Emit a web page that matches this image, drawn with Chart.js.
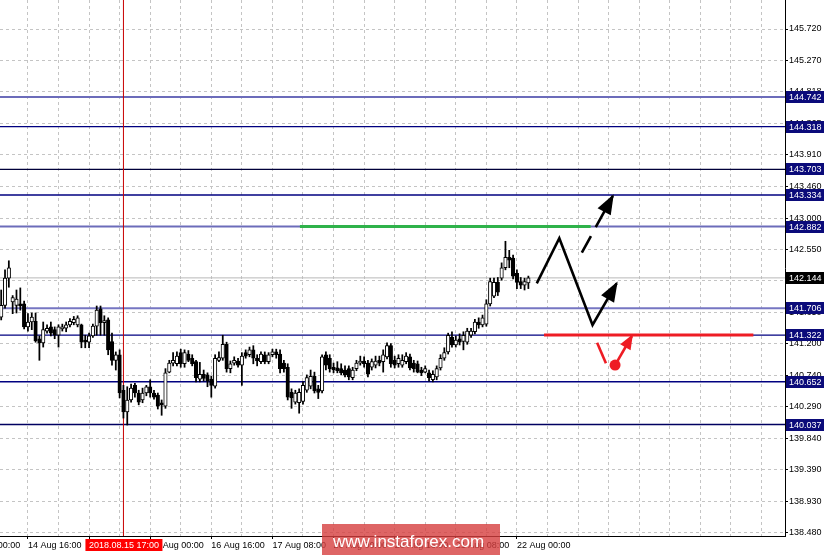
<!DOCTYPE html>
<html><head><meta charset="utf-8">
<script src="https://cdn.jsdelivr.net/npm/chart.js@4.4.1/dist/chart.umd.min.js"></script>
<style>html,body{margin:0;padding:0;background:#fff;overflow:hidden}canvas{display:block}</style>
</head><body>
<canvas id="c" width="824" height="555" style="width:824px;height:555px"></canvas>
<script>
// ---- H1 candles, 14 Aug 2018 09:00 (index 0) .. 22 Aug 2018 03:00 (index 138)
const opens = [141.58,141.75,142.14,141.80,141.75,141.77,141.77,141.44,141.51,141.52,
141.27,141.21,141.38,141.44,141.40,141.32,141.41,141.42,141.47,141.50,
141.47,141.47,141.25,141.22,141.31,141.45,141.70,141.50,141.54,141.23,
140.96,141.04,140.53,140.22,140.39,140.60,140.49,140.39,140.49,140.58,
140.49,140.46,140.35,140.30,140.79,140.92,140.91,141.07,140.91,141.05,
140.99,140.94,140.69,140.76,140.75,140.69,140.59,140.96,140.99,141.19,
140.84,140.92,140.95,140.89,141.07,141.04,141.11,140.99,140.94,141.04,
140.94,141.04,141.08,141.05,140.92,140.86,140.50,140.36,140.35,140.37,
140.53,140.59,140.73,140.55,140.52,141.04,140.99,140.86,140.85,140.84,
140.82,140.84,140.71,140.84,140.92,140.95,140.92,140.86,140.89,140.96,
140.94,141.01,141.17,140.96,140.91,140.89,140.94,141.01,140.92,140.91,
140.82,140.79,140.78,140.68,140.72,140.85,140.99,141.08,141.29,141.18,
141.27,141.23,141.22,141.32,141.37,141.51,141.47,141.48,141.77,141.88,
142.08,142.14,142.29,142.44,142.43,142.21,142.09,142.04,142.07];
const highs = [141.97,142.26,142.39,141.89,141.97,142.00,141.81,141.63,141.64,141.64,
141.31,141.51,141.47,141.51,141.44,141.47,141.48,141.51,141.56,141.59,
141.60,141.48,141.32,141.35,141.48,141.74,141.74,141.60,141.57,141.35,
141.08,141.11,140.60,140.58,140.62,140.63,140.53,140.56,140.60,140.68,
140.53,140.49,140.39,140.84,140.96,141.07,141.08,141.12,141.11,141.10,
141.04,140.96,140.93,140.82,140.78,140.73,141.04,141.08,141.32,141.22,
140.95,141.01,140.99,141.07,141.11,141.15,141.17,141.04,141.08,141.08,
141.07,141.12,141.12,141.11,140.96,140.91,140.55,140.53,140.55,140.65,
140.75,140.82,140.79,140.60,141.04,141.08,141.04,140.92,140.94,140.91,
140.88,140.88,140.86,140.96,141.02,141.01,140.96,140.98,141.02,141.02,
141.11,141.21,141.20,141.02,141.04,141.04,141.07,141.05,140.96,140.95,
140.86,140.88,140.82,140.81,140.88,141.04,141.14,141.35,141.37,141.31,
141.34,141.37,141.42,141.42,141.55,141.57,141.61,141.83,142.14,142.14,
142.15,142.36,142.67,142.54,142.47,142.26,142.15,142.14,142.17];
const lows = [141.54,141.71,142.01,141.63,141.64,141.68,141.41,141.38,141.40,141.22,
140.96,141.15,141.35,141.31,141.27,141.15,141.38,141.37,141.44,141.47,
141.44,141.14,141.14,141.14,141.29,141.32,141.32,141.32,141.04,140.89,
140.82,140.42,140.13,140.03,140.36,140.43,140.32,140.35,140.45,140.43,
140.40,140.26,140.17,140.27,140.78,140.88,140.88,140.86,140.86,140.94,
140.88,140.65,140.65,140.66,140.58,140.43,140.56,140.94,140.96,140.79,
140.78,140.89,140.86,140.60,140.99,141.01,140.91,140.88,140.91,140.91,
140.91,141.01,140.99,140.78,140.79,140.39,140.27,140.33,140.20,140.33,
140.50,140.55,140.49,140.41,140.49,140.82,140.79,140.78,140.78,140.75,
140.72,140.68,140.68,140.81,140.89,140.86,140.72,140.82,140.85,140.88,
140.79,140.98,140.86,140.85,140.86,140.86,140.91,140.82,140.79,140.78,
140.74,140.78,140.66,140.65,140.68,140.82,140.96,141.05,141.15,141.15,
141.18,141.11,141.19,141.29,141.34,141.42,141.44,141.45,141.74,141.86,
141.89,142.11,142.26,142.29,142.13,141.99,141.99,141.97,141.99];
const closes = [141.75,142.14,142.29,141.86,141.84,141.74,141.44,141.51,141.58,141.24,
141.21,141.40,141.42,141.35,141.32,141.44,141.44,141.47,141.52,141.55,
141.57,141.22,141.22,141.31,141.45,141.68,141.50,141.53,141.11,140.96,
141.04,140.49,140.22,140.39,140.56,140.49,140.36,140.49,140.58,140.49,
140.43,140.30,140.32,140.78,140.92,140.96,141.02,140.91,141.07,140.96,
140.91,140.71,140.76,140.70,140.66,140.60,140.99,141.00,141.19,140.84,
140.91,140.96,140.89,141.02,141.02,141.11,140.99,140.95,141.05,140.94,
141.04,141.08,141.04,140.84,140.84,140.43,140.42,140.49,140.50,140.60,
140.71,140.73,140.52,140.50,141.01,140.89,140.84,140.82,140.81,140.78,
140.75,140.72,140.82,140.92,140.95,140.91,140.76,140.94,140.95,140.92,
141.04,141.17,140.91,140.89,140.99,140.96,141.02,140.85,140.84,140.79,
140.78,140.84,140.71,140.76,140.84,140.99,141.07,141.32,141.18,141.25,
141.22,141.32,141.38,141.38,141.51,141.47,141.57,141.77,142.09,142.08,
141.94,142.29,142.44,142.40,142.17,142.08,142.04,142.09,142.144];

// ---- axis content
const priceTicks = [145.720,145.270,144.818,144.365,143.910,143.460,143.000,142.550,142.100,141.650,141.200,140.740,140.290,139.840,139.390,138.930,138.480];
const timeTickIdx = [-9,7,23,39,55,71,87,103,119,135];
const timeTickLabels = ['14 Aug 00:00','14 Aug 16:00','15 Aug 08:00','16 Aug 00:00','16 Aug 16:00','17 Aug 08:00','20 Aug 00:00','20 Aug 16:00','21 Aug 08:00','22 Aug 00:00'];
const gridStep = 8;
const markedBarIdx = 32;
const markedBarLabel = '2018.08.15 17:00';

// ---- horizontal levels
const levelPrices = [144.742,144.318,143.703,143.334,142.882,141.706,141.322,140.652,140.037];
const levelColors = ['#6c6cba','#000080','#00003a','#000080','#6c6cba','#7676c2','#000080','#000080','#000060'];
const bidPrice = 142.144;

// ---- forecast drawing
const greenIdx = [78.2,154.3];        const greenPrice = 142.882;
const redLineIdx = [142.1,196.9];     const redLinePrice = 141.322;
const zigzagIdx = [140.2,146.1,154.8,161.1];
const zigzagPrice = [142.066,142.713,141.467,142.066];
const dashIdx = [152.0,160.1];        const dashPrice = [142.506,143.321];
const redTickIdx = [156.0,158.3];     const redTickPrice = [141.213,140.917];
const redArrowIdx = [160.7,165.1];    const redArrowPrice = [140.892,141.309];

const XMIN = -0.314, XMAX = 205.18;
const YMIN = 138.4355, YMAX = 146.1367;

const FONT = 'Liberation Sans';
Chart.defaults.font.family = FONT;
Chart.defaults.font.size = 9;
Chart.defaults.color = '#000';

const pts = (xs, ys) => xs.map((x, i) => ({x, y: Array.isArray(ys) ? ys[i] : ys}));
const lineDS = (data, color, width, order, extra) => Object.assign({
  type: 'line', data, borderColor: color, backgroundColor: color, borderWidth: width,
  pointRadius: 0, tension: 0, order, borderCapStyle: 'butt', borderJoinStyle: 'miter', fill: false
}, extra || {});

const datasets = [];
// candle bodies (drawn over wicks)
datasets.push({
  type: 'bar', order: 2, grouped: false, barThickness: 3.5,
  data: opens.map((o, i) => ({x: i, y: [Math.min(o, closes[i]), Math.max(o, closes[i])]})),
  backgroundColor: opens.map((o, i) => closes[i] >= o ? '#ffffff' : '#000000'),
  borderColor: '#000', borderWidth: 1, borderSkipped: false
});
// wicks
datasets.push({
  type: 'bar', order: 3, grouped: false, barThickness: 1.1,
  data: opens.map((o, i) => ({x: i, y: [lows[i], highs[i]]})),
  backgroundColor: '#000', borderWidth: 0
});
levelPrices.forEach((p, k) => {
  const thick = levelColors[k].startsWith('#6') || levelColors[k].startsWith('#7');
  datasets.push(lineDS(pts([XMIN, XMAX], p), levelColors[k], thick ? 2 : 1.4, 5));
});
datasets.push(lineDS(pts([XMIN, XMAX], bidPrice), '#b8b8b8', 1, 6));
datasets.push(lineDS(pts([markedBarIdx, markedBarIdx], [YMIN, YMAX]), '#c80000', 1, 4));
datasets.push(lineDS(pts(greenIdx, greenPrice), '#2fb24a', 3, 1));
datasets.push(lineDS(pts(redLineIdx, redLinePrice), '#ee1c24', 3, 1));
datasets.push(lineDS(pts(zigzagIdx, zigzagPrice), '#000', 2.6, 0, {arrow: [20, 7.5]}));
datasets.push(lineDS(pts(dashIdx, dashPrice), '#000', 2.6, 0, {borderDash: [19, 10], arrow: [20, 7.5]}));
datasets.push(lineDS(pts(redTickIdx, redTickPrice), '#ee1c24', 2.6, 0));
datasets.push(lineDS(pts(redArrowIdx, redArrowPrice), '#ee1c24', 2.6, 0, {arrow: [15, 6]}));
datasets.push(lineDS([{x: redArrowIdx[0], y: redArrowPrice[0]}], '#ee1c24', 0, 0, {pointRadius: 5.5, showLine: false}));

const overlay = {
  id: 'overlay',
  beforeDraw(chart) {
    const c = chart.ctx; c.save(); c.fillStyle = '#fff'; c.fillRect(0, 0, chart.width, chart.height); c.restore();
  },
  afterDatasetsDraw(chart) {
    const c = chart.ctx;
    chart.data.datasets.forEach((ds, i) => {
      if (!ds.arrow) return;
      const els = chart.getDatasetMeta(i).data;
      const a = els[els.length - 2], b = els[els.length - 1];
      const dx = b.x - a.x, dy = b.y - a.y, L = Math.hypot(dx, dy);
      const ux = dx / L, uy = dy / L, nx = -uy, ny = ux;
      const [len, hw] = ds.arrow;
      const tx = b.x + ux * 2, ty = b.y + uy * 2;
      const bx = tx - ux * len, by = ty - uy * len;
      c.save(); c.fillStyle = ds.borderColor; c.beginPath();
      c.moveTo(tx, ty); c.lineTo(bx + nx * hw, by + ny * hw); c.lineTo(bx - nx * hw, by - ny * hw);
      c.closePath(); c.fill(); c.restore();
    });
  },
  afterDraw(chart) {
    const c = chart.ctx, ys = chart.scales.y, xs = chart.scales.x;
    c.save();
    c.font = '9px "' + FONT + '"';
    c.textBaseline = 'middle'; c.textAlign = 'left';
    const box = (p, bg) => {
      const y = Math.round(ys.getPixelForValue(p));
      c.fillStyle = bg; c.fillRect(ys.left + 1, y - 6, chart.width - ys.left - 1, 12);
      c.fillStyle = '#fff'; c.fillText(p.toFixed(3), ys.left + 4, y + 0.5);
    };
    levelPrices.forEach(p => box(p, '#0b0b7a'));
    box(bidPrice, '#000');
    // marked bar time label
    const mx = xs.getPixelForValue(markedBarIdx);
    c.fillStyle = '#ff0000'; c.fillRect(mx - 38, xs.top + 3, 77, 12);
    c.fillStyle = '#fff'; c.textAlign = 'center'; c.fillText(markedBarLabel, mx + 0.5, xs.top + 9.5);
    // watermark
    c.fillStyle = 'rgba(214,62,62,0.8)'; c.fillRect(322, 524, 178, 31);
    c.fillStyle = '#fff'; c.textAlign = 'left'; c.textBaseline = 'alphabetic';
    c.font = '17px "' + FONT + '"'; c.fillText('www.instaforex.com', 333, 547);
    c.restore();
  }
};

const gridIdx = [];
for (let v = -1; v <= XMAX; v += gridStep) gridIdx.push(v);
const allX = Array.from(new Set(gridIdx.concat(timeTickIdx))).sort((a, b) => a - b);

new Chart(document.getElementById('c'), {
  type: 'bar',
  data: {datasets},
  plugins: [overlay],
  options: {
    responsive: false, animation: false, devicePixelRatio: 1,
    layout: {padding: 0, autoPadding: false},
    events: [],
    plugins: {legend: {display: false}, tooltip: {enabled: false}},
    scales: {
      x: {
        type: 'linear', min: XMIN, max: XMAX, offset: false,
        afterBuildTicks: s => { s.ticks = allX.map(v => ({value: v})); },
        afterFit: s => { s.height = 19; s.paddingLeft = 0; s.paddingRight = 0; },
        ticks: {
          autoSkip: false, maxRotation: 0, minRotation: 0, align: 'start', padding: 1,
          font: {family: FONT, size: 9}, color: '#000',
          callback: v => { const k = timeTickIdx.indexOf(v); return k >= 0 ? timeTickLabels[k] : ''; }
        },
        grid: {
          offset: false, color: '#c4c4c4', lineWidth: 1, tickLength: 3,
          tickColor: ctx => (ctx.tick && timeTickIdx.indexOf(ctx.tick.value) >= 0) ? '#000' : 'rgba(0,0,0,0)'
        },
        border: {display: true, color: '#000', width: 1, dash: [3, 3]}
      },
      y: {
        type: 'linear', position: 'right', min: YMIN, max: YMAX, beginAtZero: false,
        afterBuildTicks: s => { s.ticks = priceTicks.map(v => ({value: v})); },
        afterFit: s => { s.width = 39; s.paddingTop = 0; s.paddingBottom = 0; },
        ticks: {
          autoSkip: false, padding: 1, font: {family: FONT, size: 9}, color: '#000',
          callback: v => Number(v).toFixed(3)
        },
        grid: {color: '#c4c4c4', lineWidth: 1, tickLength: 3, tickColor: '#000'},
        border: {display: true, color: '#000', width: 1, dash: [3, 3]}
      }
    }
  }
});
</script>
</body></html>
